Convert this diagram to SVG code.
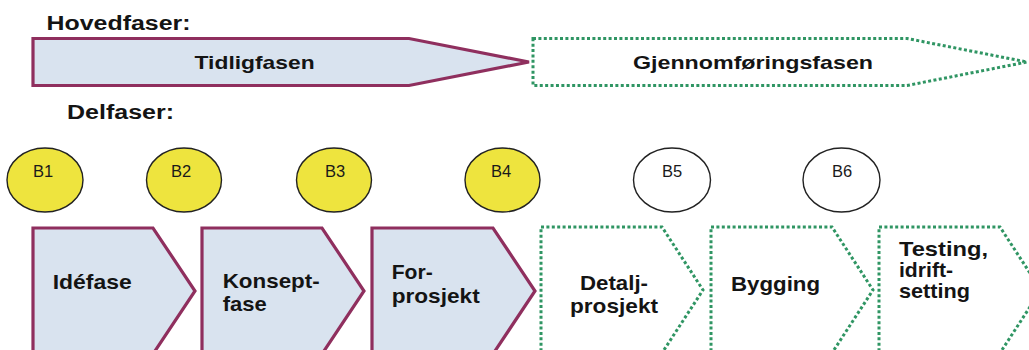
<svg xmlns="http://www.w3.org/2000/svg" width="1029" height="350" viewBox="0 0 1029 350">
  <style>
    .early { fill: #d9e3ef; stroke: #8f2f5e; stroke-width: 3.2; stroke-linejoin: miter; }
    .late { fill: #ffffff; stroke: #2f9563; stroke-width: 3; stroke-dasharray: 3 2.4; }
    .gate-done { fill: #eee43e; stroke: #222; stroke-width: 1.4; }
    .gate-todo { fill: #ffffff; stroke: #222; stroke-width: 1.4; }
    .h { font-family: "Liberation Sans", Arial, sans-serif; font-weight: bold; font-size: 20px; fill: #141414; }
    .t { font-family: "Liberation Sans", Arial, sans-serif; font-weight: bold; font-size: 19px; fill: #141414; }
    .c { font-family: "Liberation Sans", Arial, sans-serif; font-weight: bold; font-size: 20.5px; fill: #141414; }
    .g { font-family: "Liberation Sans", Arial, sans-serif; font-size: 16.5px; fill: #1a1a1a; text-anchor: middle; }
  </style>
  <rect width="1029" height="350" fill="#ffffff"/>

  <text class="h" x="46.5" y="30" textLength="144" lengthAdjust="spacingAndGlyphs">Hovedfaser:</text>
  <text class="h" x="67" y="119" textLength="107" lengthAdjust="spacingAndGlyphs">Delfaser:</text>

  <g id="tidligfasen">
    <polygon class="early" points="33,38.5 409,38.5 529,62 409,85.5 33,85.5"/>
    <text class="t" x="194.6" y="69" textLength="120" lengthAdjust="spacingAndGlyphs">Tidligfasen</text>
  </g>
  <g id="gjennomforingsfasen">
    <polygon class="late" points="533,38.5 907,38.5 1027,62 907,85.5 533,85.5"/>
    <text class="t" x="633" y="68.5" textLength="240" lengthAdjust="spacingAndGlyphs">Gjennomføringsfasen</text>
  </g>

  <g id="b1"><ellipse class="gate-done" cx="45" cy="180" rx="38" ry="32"/><text class="g" x="43" y="177">B1</text></g>
  <g id="b2"><ellipse class="gate-done" cx="184" cy="180" rx="37.5" ry="32"/><text class="g" x="181" y="177">B2</text></g>
  <g id="b3"><ellipse class="gate-done" cx="334" cy="180" rx="37.5" ry="32"/><text class="g" x="335" y="177">B3</text></g>
  <g id="b4"><ellipse class="gate-done" cx="502.5" cy="180" rx="37.5" ry="32"/><text class="g" x="501" y="177">B4</text></g>
  <g id="b5"><ellipse class="gate-todo" cx="672" cy="180" rx="38.5" ry="32"/><text class="g" x="672" y="177">B5</text></g>
  <g id="b6"><ellipse class="gate-todo" cx="841.5" cy="180" rx="38.5" ry="32"/><text class="g" x="842" y="177">B6</text></g>

  <g id="idefase">
    <polygon class="early" points="33,228 153,228 195,291 153,354 33,354"/>
    <text class="c" x="52.7" y="289" textLength="79" lengthAdjust="spacingAndGlyphs">Idéfase</text>
  </g>
  <g id="konseptfase">
    <polygon class="early" points="202,228 322,228 364,291 322,354 202,354"/>
    <text class="c" x="222.7" y="288" textLength="97" lengthAdjust="spacingAndGlyphs">Konsept-</text>
    <text class="c" x="222.7" y="311" textLength="44" lengthAdjust="spacingAndGlyphs">fase</text>
  </g>
  <g id="forprosjekt">
    <polygon class="early" points="372,228 493,228 535,291 493,354 372,354"/>
    <text class="c" x="391.7" y="279" textLength="41" lengthAdjust="spacingAndGlyphs">For-</text>
    <text class="c" x="391.7" y="303" textLength="88" lengthAdjust="spacingAndGlyphs">prosjekt</text>
  </g>
  <g id="detaljprosjekt">
    <polygon class="late" points="541,227 662,227 703,290 662,353 541,353"/>
    <text class="c" x="580" y="290" textLength="68" lengthAdjust="spacingAndGlyphs">Detalj-</text>
    <text class="c" x="570" y="313" textLength="88" lengthAdjust="spacingAndGlyphs">prosjekt</text>
  </g>
  <g id="bygging">
    <polygon class="late" points="711,227 832,227 873,290 832,353 711,353"/>
    <text class="c" x="731" y="291" textLength="89" lengthAdjust="spacingAndGlyphs">Bygging</text>
  </g>
  <g id="testing">
    <polygon class="late" points="879,227 1000,227 1041,290 1000,353 879,353"/>
    <text class="c" x="899" y="256" textLength="89" lengthAdjust="spacingAndGlyphs">Testing,</text>
    <text class="c" x="899" y="277" textLength="54" lengthAdjust="spacingAndGlyphs">idrift-</text>
    <text class="c" x="899" y="298" textLength="71" lengthAdjust="spacingAndGlyphs">setting</text>
  </g>

  <g id="connectors"></g>
</svg>
